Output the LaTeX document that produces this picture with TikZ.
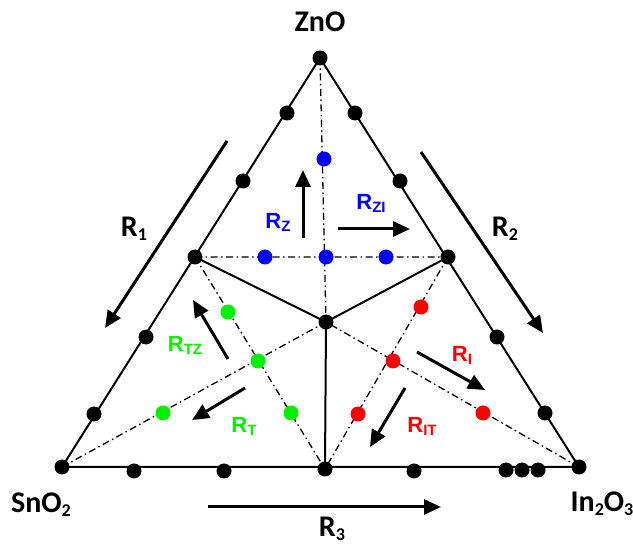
\documentclass[tikz,border=0pt]{standalone}
\usepackage{fontspec}
\setmainfont{Carlito}
\newfontfamily\arialfont{Liberation Sans}
\usetikzlibrary{arrows.meta}
\definecolor{ZnBlue}{RGB}{0,0,255}
\definecolor{SnGreen}{RGB}{0,240,0}
\definecolor{InRed}{RGB}{255,0,0}
\newcommand{\csub}[1]{\raisebox{-4pt}{\fontsize{18}{18}\selectfont #1}}
\newcommand{\asub}[1]{\raisebox{-3pt}{\fontsize{15}{15}\selectfont #1}}

\begin{document}
\begin{tikzpicture}[x=1pt,y=-1pt,
  edge/.style={line width=2pt},
  dashdot/.style={line width=1.3pt,dash pattern=on 7pt off 3.5pt on 1.5pt off 3.5pt},
  arr/.style={line width=3pt,-{Triangle[length=17pt,width=15pt]}},
  bdot/.style={circle,fill=black,inner sep=0pt,minimum size=15pt},
  cdot/.style={circle,fill=#1,inner sep=0pt,minimum size=15pt},
  clab/.style={font=\fontsize{30}{30}\selectfont\bfseries,inner sep=0pt,anchor=base},
  rlab/.style={text=#1,font=\arialfont\fontsize{22}{22}\selectfont\bfseries,inner sep=0pt,anchor=base}]
  \useasboundingbox (0,0) rectangle (633,545);
  % corners and inner points
  \coordinate (Zn) at (320,58);
  \coordinate (Sn) at (62,467);
  \coordinate (In) at (579,467);
  \coordinate (M) at (326,322);
  \coordinate (ZS) at (195,257);
  \coordinate (ZI) at (448,257);
  \coordinate (SI) at (325,469);
  % lines
  \draw[edge] (Zn)--(In)--(Sn)--cycle;
  \draw[edge] (ZS)--(M)--(ZI) (M)--(SI);
  \draw[dashdot] (Zn)--(M) (ZS)--(ZI) (ZS)--(SI) (ZI)--(SI) (Sn)--(M) (In)--(M);
  % black points
  \foreach \c in {Zn,Sn,In,M,ZS,ZI,SI}
    \node[bdot] (p\c) at (\c) {};
  \foreach \x/\y/\n in {287/113/l1,243/181/l2,146/337/l3,94/414/l4,
                        355/113/r1,400/181/r2,497/337/r3,545/413/r4,
                        134/471/b1,224/471/b2,414/471/b3,506/470/b4,522/470/b5,538/470/b6}
    \node[bdot] (\n) at (\x,\y) {};
  % coloured points
  \foreach \x/\y/\n in {324/159/z1,265/257/z2,326/257/z3,386/257/z4}
    \node[cdot=ZnBlue] (\n) at (\x,\y) {};
  \foreach \x/\y/\n in {228/312/t1,258/361/t2,163/413/t3,291/413/t4}
    \node[cdot=SnGreen] (\n) at (\x,\y) {};
  \foreach \x/\y/\n in {421/307/i1,393/361/i2,358/414/i3,483/413/i4}
    \node[cdot=InRed] (\n) at (\x,\y) {};
  % arrows
  \draw[arr] (227,141)--(105,328);
  \draw[arr] (421,152)--(543,333);
  \draw[arr] (208,507)--(441,507);
  \draw[arr] (303,238)--(303,170);
  \draw[arr] (338,229)--(410,229);
  \draw[arr] (228,359)--(193,300);
  \draw[arr] (245,388)--(192,420);
  \draw[arr] (417,352)--(485,390);
  \draw[arr] (405,388)--(370,447);
  % labels
  \node[clab] (zno) at (320,32) {ZnO};
  \node[clab] (sno) at (41,513) {SnO\csub{2}};
  \node[clab] (ino) at (602,512) {In\csub{2}O\csub{3}};
  \node[clab] (r1) at (134,237) {R\csub{1}};
  \node[clab] (r2) at (505,237) {R\csub{2}};
  \node[clab] (r3) at (332,537) {R\csub{3}};
  \node[rlab=ZnBlue] (rz) at (278,229) {R\asub{Z}};
  \node[rlab=ZnBlue] (rzi) at (371,210) {R\asub{ZI}};
  \node[rlab=SnGreen] (rtz) at (185,352) {R\asub{TZ}};
  \node[rlab=SnGreen] (rt) at (244,433) {R\asub{T}};
  \node[rlab=InRed] (ri) at (462,362) {R\asub{I}};
  \node[rlab=InRed] (rit) at (422,433) {R\asub{IT}};
\end{tikzpicture}
\end{document}
